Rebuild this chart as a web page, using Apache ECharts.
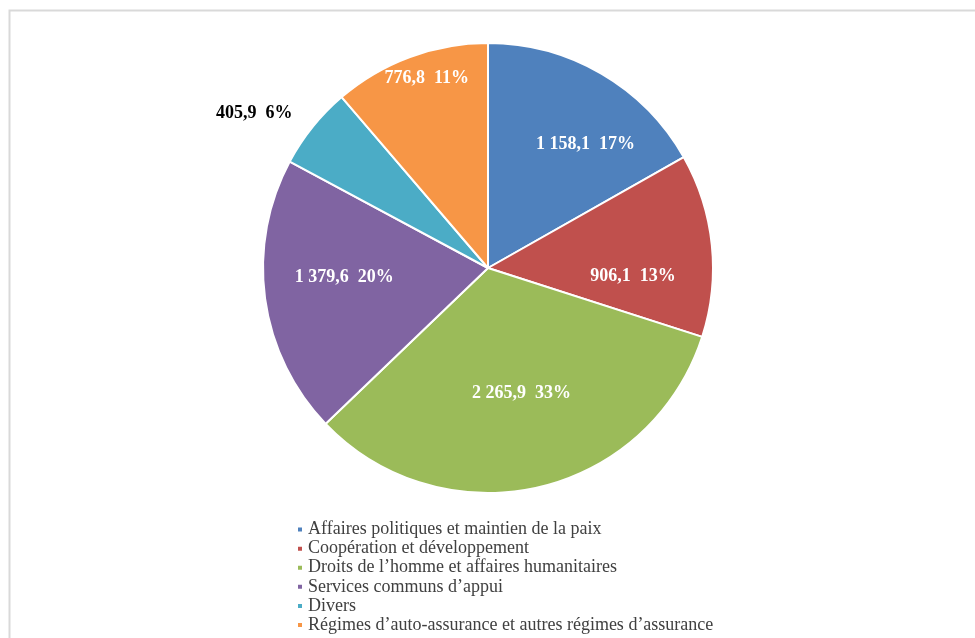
<!DOCTYPE html>
<html>
<head>
<meta charset="utf-8">
<script src="https://cdn.jsdelivr.net/npm/echarts@6/dist/echarts.min.js"></script>
<style>
  html, body { margin: 0; padding: 0; background: #ffffff; }
  #chart { width: 975px; height: 638px; }
</style>
</head>
<body>
<div id="chart"></div>
<script>
// Budget split by section (values in millions)
const categories = [
  'Affaires politiques et maintien de la paix',
  'Coopération et développement',
  'Droits de l’homme et affaires humanitaires',
  'Services communs d’appui',
  'Divers',
  'Régimes d’auto-assurance et autres régimes d’assurance'
];
const values = [1158.1, 906.1, 2265.9, 1379.6, 405.9, 776.8];

// Slice colours
const colors = ['#4F81BD', '#C0504D', '#9BBB59', '#8064A2', '#4BACC6', '#F79646'];

// Label placement tweaks: angular shift (deg) from slice middle, distance as share of radius
const labelShift = [8, 9, -2, 4, -5.4, 2.4];
const labelDist = [0.70, 0.645, 0.575, 0.64, 1.245, 0.885];

const CX = 488, CY = 268, R = 225;
const total = values.reduce((a, b) => a + b, 0);

function fmtNumber(v) {
  const parts = v.toFixed(1).split('.');
  const intPart = parts[0].replace(/\B(?=(\d{3})+(?!\d))/g, ' ');
  return intPart + ',' + parts[1];
}

// Middle angle of each slice, clockwise from 12 o'clock
const midAngles = [];
let acc = 0;
values.forEach(v => {
  midAngles.push((acc + v / 2) / total * 360);
  acc += v;
});

const chart = echarts.init(document.getElementById('chart'), null, { renderer: 'canvas' });

chart.setOption({
  animation: false,
  color: colors,
  graphic: [{
    type: 'rect',
    shape: { x: 9.5, y: 10.5, width: 1000, height: 700 },
    style: { fill: 'none', stroke: '#d9d9d9', lineWidth: 2 },
    silent: true
  }],
  legend: {
    orient: 'vertical',
    left: 296,
    top: 520,
    padding: 0,
    itemGap: 0,
    itemWidth: 6,
    itemHeight: 6,
    icon: 'rect',
    data: categories,
    textStyle: {
      fontFamily: '"Liberation Serif", "DejaVu Serif", serif',
      fontSize: 18,
      lineHeight: 19.1,
      color: '#404040'
    }
  },
  series: [{
    type: 'pie',
    center: [CX, CY],
    radius: [0, R],
    startAngle: 90,
    clockwise: true,
    avoidLabelOverlap: false,
    itemStyle: { borderColor: '#ffffff', borderWidth: 2 },
    label: {
      show: true,
      position: 'inside',
      fontFamily: '"Liberation Serif", "DejaVu Serif", serif',
      fontWeight: 'bold',
      fontSize: 18,
      color: '#ffffff',
      formatter: p => fmtNumber(p.value) + '  ' + Math.round(p.value / total * 100) + '%'
    },
    labelLine: { show: false },
    labelLayout: p => {
      const i = p.dataIndex;
      const a = (midAngles[i] + labelShift[i]) * Math.PI / 180;
      const d = labelDist[i] * R;
      return {
        x: CX + d * Math.sin(a),
        y: CY - d * Math.cos(a),
        align: 'center',
        verticalAlign: 'middle'
      };
    },
    emphasis: { disabled: true },
    data: categories.map((name, i) => ({
      name: name,
      value: values[i],
      label: i === 4 ? { color: '#000000' } : undefined
    }))
  }]
});
</script>
</body>
</html>
